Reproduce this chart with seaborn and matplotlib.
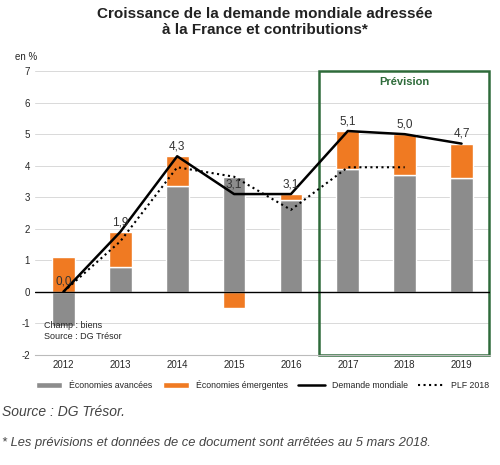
import matplotlib.pyplot as plt
import seaborn as sns
import numpy as np
from matplotlib.patches import Rectangle

years = ['2012', '2013', '2014', '2015', '2016', '2017', '2018', '2019']
avancees = [-1.1, 0.8, 3.35, 3.65, 2.9, 3.9, 3.7, 3.6]
emergentes = [1.1, 1.1, 0.95, -0.5, 0.2, 1.2, 1.3, 1.1]
demande = [0.0, 1.9, 4.3, 3.1, 3.1, 5.1, 5.0, 4.7]
plf_years = ['2012', '2013', '2014', '2015', '2016', '2017', '2018']
plf = [0.0, 1.6, 3.95, 3.65, 2.6, 3.95, 3.95]
labels = ['0,0', '1,9', '4,3', '3,1', '3,1', '5,1', '5,0', '4,7']

sns.set_style('white')
plt.rcParams['font.family'] = ['Liberation Sans', 'DejaVu Sans']
plt.rcParams['axes.unicode_minus'] = False

fig = plt.figure(figsize=(5, 4.65), dpi=100)
ax = fig.add_axes([0.07, 0.237, 0.91, 0.61])

x = np.arange(len(years))
grey = '#8c8c8c'
orange = '#f07a22'
# emerging stacked on advanced when both positive
bottom_em = [a if (a > 0 and e > 0) else 0 for a, e in zip(avancees, emergentes)]
b1 = ax.bar(x, avancees, width=0.4, color=grey, label='Économies avancées')
b2 = ax.bar(x, emergentes, width=0.4, bottom=bottom_em, color=orange, label='Économies émergentes')
sns.lineplot(x=x, y=demande, color='black', lw=1.8, ax=ax, label='Demande mondiale')
sns.lineplot(x=np.arange(len(plf_years)), y=plf, color='black', lw=1.5, ls=':', ax=ax, label='PLF 2018')
for xi, v, t in zip(x, demande, labels):
    ax.text(xi, v + 0.12, t, ha='center', va='bottom', fontsize=8.5, color='#333333')

ax.axhline(0, color='black', lw=1)
ax.set_ylim(-2, 7)
ax.set_xlim(-0.5, 7.5)
ax.set_yticks(range(-2, 8))
ax.set_xticks(x)
ax.set_xticklabels(years)
ax.tick_params(labelsize=7, length=0)
ax.yaxis.grid(True, color='#d9d9d9', lw=0.7)
ax.set_axisbelow(True)
for s in ['top', 'right', 'left']:
    ax.spines[s].set_visible(False)
ax.spines['bottom'].set_color('#bbbbbb')
ax.add_patch(Rectangle((4.5, -2), 2.98, 9, fill=False, ec='#2e6b3a', lw=1.8, clip_on=False))
ax.text(6, 6.55, 'Prévision', ha='center', fontsize=8, color='#2e6b3a', fontweight='bold')
ax.text(-0.35, -1.25, 'Champ : biens\nSource : DG Trésor', fontsize=6.5, va='center')

h, l = ax.get_legend_handles_labels()
order = [l.index(n) for n in ['Économies avancées', 'Économies émergentes', 'Demande mondiale', 'PLF 2018']]
ax.legend([h[i] for i in order], [l[i] for i in order], loc='upper center',
          bbox_to_anchor=(0.5, -0.06), ncol=4, frameon=False,
          fontsize=6.3, handlelength=3, columnspacing=1.2)

fig.text(0.03, 0.87, 'en %', fontsize=7)
fig.text(0.53, 0.985, 'Croissance de la demande mondiale adressée\nà la France et contributions*',
         ha='center', va='top', fontsize=11, fontweight='bold', color='#222222')
fig.text(0.005, 0.105, 'Source : DG Trésor.', fontsize=10, style='italic', color='#444444')
fig.text(0.005, 0.04, '* Les prévisions et données de ce document sont arrêtées au 5 mars 2018.',
         fontsize=9.3, style='italic', color='#444444')
fig.savefig('out.png', dpi=100)
